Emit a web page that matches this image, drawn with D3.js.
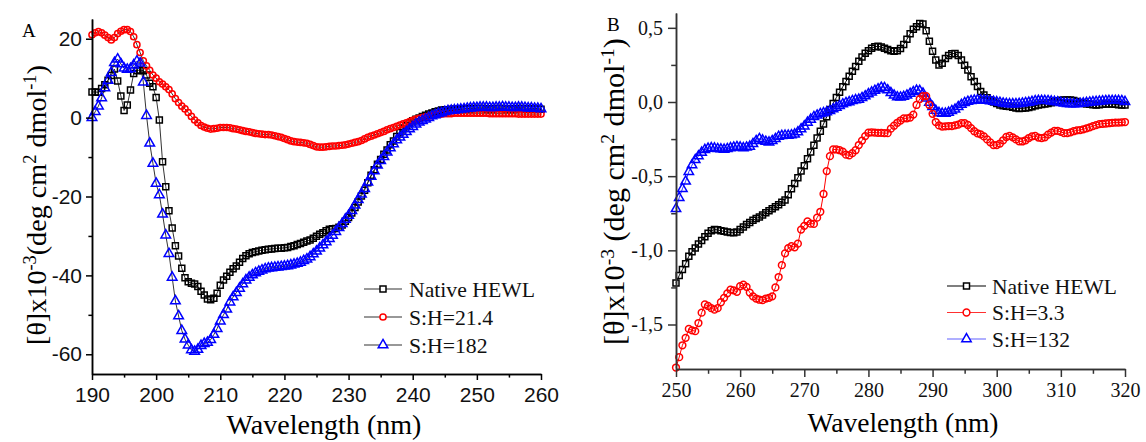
<!DOCTYPE html>
<html>
<head>
<meta charset="utf-8">
<script src="https://cdn.jsdelivr.net/npm/d3@7/dist/d3.min.js"></script>
<style>
  body { margin: 0; background: #fff; }
  svg { display: block; }
  .serif { font-family: 'Liberation Serif', 'Tinos', 'Nimbus Roman', 'FreeSerif', 'Noto Serif', 'DejaVu Serif', 'Times New Roman', 'Liberation Sans', sans-serif; }
  .sans { font-family: 'Liberation Sans', Arial, 'DejaVu Sans', sans-serif; }
</style>
</head>
<body>
<svg id="chart" width="1146" height="442"></svg>
<script>
// wavelength grid of the spectra (0.5 nm steps)
const wlA = d3.range(190, 260.25, 0.5);
const wlB = d3.range(250, 320.25, 0.5);

// panel A, far-UV CD, [theta] x 10^-3
const nativeA = [
  6.5, 6.5, 6.4, 7.4, 8.3, 9.5, 10.7, 12.3, 9.3, 5.5,
  1.8, 3.2, 7.0, 11.2, 11.9, 12.1, 11.9, 10.8, 8.7, 7.8,
  5.1, -0.6, -11.2, -17.5, -23.6, -28.0, -32.5, -35.1, -38.2, -40.6,
  -41.6, -42.0, -42.2, -42.8, -44.0, -45.0, -46.0, -46.2, -45.8, -44.5,
  -42.5, -41.2, -40.2, -39.2, -38.3, -37.6, -36.7, -35.7, -35.0, -34.5,
  -34.2, -34.0, -33.8, -33.6, -33.5, -33.4, -33.3, -33.2, -33.1, -33.1,
  -33.0, -32.9, -32.7, -32.5, -32.2, -31.9, -31.6, -31.3, -31.0, -30.6,
  -30.1, -29.6, -29.2, -28.7, -28.3, -28.2, -28.1, -27.8, -27.2, -26.3,
  -25.3, -24.2, -22.8, -21.4, -19.9, -18.4, -16.5, -14.6, -13.2, -11.8,
  -10.6, -9.3, -8.2, -6.9, -5.9, -4.8, -3.8, -2.8, -2.0, -1.3,
  -0.8, -0.4, -0.1, 0.3, 0.6, 0.9, 1.2, 1.5, 1.7, 1.9,
  2.0, 2.0, 2.1, 2.1, 2.1, 2.2, 2.2, 2.2, 2.2, 2.3,
  2.3, 2.3, 2.3, 2.2, 2.2, 2.2, 2.3, 2.3, 2.3, 2.2,
  2.2, 2.2, 2.2, 2.3, 2.3, 2.2, 2.2, 2.1, 2.1, 2.1,
  2.1
];
const sh214A = [
  21.0, 21.5, 21.8, 21.5, 20.9, 20.3, 19.7, 20.3, 21.3, 21.9,
  22.3, 22.3, 21.8, 20.5, 18.5, 16.5, 14.4, 13.1, 12.0, 10.8,
  10.0, 9.1, 8.5, 7.8, 7.1, 6.0, 4.8, 3.8, 2.9, 2.2,
  1.3, 0.3, -0.6, -1.3, -2.0, -2.4, -2.7, -2.9, -2.8, -2.7,
  -2.5, -2.5, -2.5, -2.6, -2.8, -2.9, -3.1, -3.3, -3.5, -3.6,
  -3.8, -4.0, -4.1, -4.2, -4.3, -4.3, -4.4, -4.6, -4.8, -5.0,
  -5.3, -5.6, -5.9, -6.1, -6.2, -6.3, -6.4, -6.5, -6.8, -7.1,
  -7.4, -7.5, -7.5, -7.4, -7.3, -7.2, -7.2, -7.1, -7.0, -6.9,
  -6.7, -6.5, -6.3, -6.1, -5.8, -5.4, -5.0, -4.7, -4.4, -4.1,
  -3.8, -3.5, -3.1, -2.8, -2.5, -2.2, -1.9, -1.6, -1.3, -1.0,
  -0.7, -0.4, -0.2, 0.0, 0.2, 0.4, 0.5, 0.7, 0.8, 0.9,
  1.0, 1.0, 1.0, 1.1, 1.1, 1.1, 1.1, 1.1, 1.1, 1.1,
  1.1, 1.1, 1.1, 1.1, 1.0, 1.0, 1.0, 1.0, 1.0, 1.0,
  1.0, 1.0, 1.0, 0.9, 0.9, 0.9, 0.9, 0.9, 0.9, 0.9,
  0.9
];
const sh182A = [
  0.0, 1.5, 2.9, 5.0, 7.5, 9.4, 11.4, 13.9, 14.8, 13.6,
  12.5, 12.2, 12.4, 13.3, 14.3, 13.8, 9.0, 0.5, -6.5, -11.6,
  -16.7, -19.6, -24.5, -29.8, -34.5, -40.5, -46.5, -50.3, -54.0, -56.2,
  -57.7, -58.9, -59.3, -58.8, -57.8, -57.3, -57.0, -56.3, -55.0, -53.5,
  -51.6, -50.0, -48.6, -46.8, -45.5, -44.4, -43.3, -42.2, -41.2, -40.5,
  -39.9, -39.4, -39.0, -38.7, -38.4, -38.2, -38.1, -38.0, -37.9, -37.8,
  -37.7, -37.6, -37.4, -37.2, -37.0, -36.7, -36.3, -35.9, -35.3, -34.6,
  -33.9, -33.1, -32.3, -31.5, -30.7, -29.9, -28.9, -27.9, -26.9, -25.8,
  -24.8, -23.6, -22.2, -20.8, -19.4, -18.0, -16.4, -14.9, -13.5, -12.1,
  -10.9, -9.9, -8.8, -7.7, -6.7, -5.7, -5.0, -4.3, -3.6, -2.9,
  -2.3, -1.7, -1.2, -0.8, -0.4, 0.0, 0.4, 0.7, 1.0, 1.2,
  1.5, 1.7, 1.8, 1.9, 2.0, 2.1, 2.2, 2.3, 2.4, 2.5,
  2.5, 2.6, 2.6, 2.6, 2.5, 2.5, 2.6, 2.6, 2.7, 2.6,
  2.6, 2.5, 2.5, 2.6, 2.6, 2.5, 2.4, 2.4, 2.3, 2.3,
  2.2
];

// panel B, near-UV CD, [theta] x 10^-3
const nativeB = [
  -1.22, -1.17, -1.13, -1.09, -1.04, -1.01, -0.985, -0.958, -0.934, -0.908,
  -0.885, -0.868, -0.860, -0.862, -0.868, -0.872, -0.876, -0.880, -0.882, -0.876,
  -0.860, -0.842, -0.826, -0.812, -0.797, -0.786, -0.775, -0.762, -0.747, -0.733,
  -0.720, -0.707, -0.693, -0.675, -0.660, -0.625, -0.585, -0.550, -0.510, -0.466,
  -0.430, -0.382, -0.337, -0.292, -0.242, -0.198, -0.148, -0.100, -0.050, -0.010,
  0.030, 0.066, 0.103, 0.139, 0.174, 0.207, 0.240, 0.275, 0.303, 0.328,
  0.346, 0.362, 0.373, 0.376, 0.370, 0.362, 0.354, 0.345, 0.342, 0.345,
  0.360, 0.388, 0.423, 0.460, 0.490, 0.507, 0.530, 0.526, 0.480, 0.410,
  0.342, 0.283, 0.250, 0.261, 0.294, 0.314, 0.325, 0.327, 0.313, 0.283,
  0.248, 0.216, 0.171, 0.139, 0.104, 0.070, 0.047, 0.028, 0.013, 0.000,
  -0.010, -0.020, -0.025, -0.028, -0.031, -0.036, -0.040, -0.043, -0.042, -0.040,
  -0.037, -0.032, -0.026, -0.021, -0.017, -0.013, -0.010, -0.005, 0.003, 0.008,
  0.012, 0.013, 0.013, 0.013, 0.010, 0.003, -0.004, -0.009, -0.013, -0.016,
  -0.018, -0.020, -0.018, -0.016, -0.014, -0.013, -0.014, -0.016, -0.018, -0.020,
  -0.020
];
const sh33B = [
  -1.79, -1.72, -1.64, -1.59, -1.53, -1.54, -1.545, -1.49, -1.42, -1.365,
  -1.375, -1.39, -1.40, -1.39, -1.35, -1.32, -1.29, -1.265, -1.27, -1.28,
  -1.242, -1.232, -1.246, -1.285, -1.31, -1.325, -1.333, -1.336, -1.325, -1.32,
  -1.31, -1.25, -1.18, -1.10, -1.02, -0.985, -0.972, -0.98, -0.955, -0.86,
  -0.835, -0.805, -0.82, -0.822, -0.78, -0.74, -0.62, -0.466, -0.365, -0.32,
  -0.32, -0.325, -0.335, -0.355, -0.36, -0.345, -0.325, -0.29, -0.26, -0.23,
  -0.207, -0.204, -0.206, -0.208, -0.208, -0.21, -0.21, -0.18, -0.16, -0.14,
  -0.125, -0.11, -0.11, -0.105, -0.085, -0.02, 0.02, 0.04, 0.04, -0.02,
  -0.08, -0.135, -0.158, -0.166, -0.164, -0.162, -0.162, -0.158, -0.153, -0.142,
  -0.142, -0.155, -0.176, -0.197, -0.211, -0.218, -0.232, -0.252, -0.272, -0.29,
  -0.29, -0.28, -0.258, -0.236, -0.229, -0.238, -0.252, -0.265, -0.266, -0.258,
  -0.243, -0.232, -0.229, -0.24, -0.244, -0.238, -0.22, -0.206, -0.195, -0.195,
  -0.201, -0.21, -0.21, -0.205, -0.197, -0.191, -0.189, -0.184, -0.178, -0.171,
  -0.163, -0.156, -0.149, -0.147, -0.145, -0.143, -0.14, -0.139, -0.139, -0.137,
  -0.135
];
const sh132B = [
  -0.72, -0.645, -0.585, -0.535, -0.47, -0.425, -0.39, -0.365, -0.34, -0.322,
  -0.313, -0.31, -0.312, -0.316, -0.318, -0.32, -0.316, -0.31, -0.306, -0.302,
  -0.305, -0.31, -0.306, -0.30, -0.282, -0.262, -0.248, -0.258, -0.267, -0.271,
  -0.262, -0.248, -0.233, -0.227, -0.226, -0.226, -0.223, -0.217, -0.203, -0.183,
  -0.163, -0.138, -0.118, -0.10, -0.09, -0.08, -0.074, -0.068, -0.06, -0.048,
  -0.037, -0.026, -0.014, -0.006, 0.0, 0.008, 0.014, 0.017, 0.028, 0.04,
  0.054, 0.066, 0.077, 0.087, 0.097, 0.095, 0.08, 0.062, 0.045, 0.033,
  0.031, 0.036, 0.045, 0.057, 0.068, 0.078, 0.076, 0.058, 0.025, -0.004,
  -0.033, -0.058, -0.072, -0.077, -0.077, -0.071, -0.06, -0.05, -0.033, -0.018,
  -0.006, 0.003, 0.008, 0.011, 0.013, 0.013, 0.011, 0.009, 0.006, 0.003,
  0.0, -0.004, -0.009, -0.012, -0.013, -0.013, -0.013, -0.012, -0.009, -0.006,
  -0.003, 0.002, 0.007, 0.009, 0.009, 0.009, 0.008, 0.005, 0.002, -0.001,
  -0.005, -0.009, -0.012, -0.013, -0.013, -0.013, -0.011, -0.008, -0.005, -0.002,
  0.0, 0.002, 0.004, 0.006, 0.008, 0.009, 0.009, 0.009, 0.009, 0.008,
  0.002
];

const namesA = ['Native HEWL', 'S:H=21.4', 'S:H=182'];
const namesB = ['Native HEWL', 'S:H=3.3', 'S:H=132'];
const xTicksA = [190, 200, 210, 220, 230, 240, 250, 260];
const yTicksA = [-60, -40, -20, 0, 20];
const xTicksB = [250, 260, 270, 280, 290, 300, 310, 320];
const yTicksB = [-1.5, -1.0, -0.5, 0.0, 0.5];

const svg = d3.select('#chart');

// halfway points between major ticks
function minors(t) {
  return t.slice(1).map((d, i) => (d + t[i]) / 2);
}

// font size that makes a text run as long as the one
function fitSize(sel, target) {
  var n = sel.node(),
    fs = parseFloat(getComputedStyle(n).fontSize),
    w = n.getBBox().width;
  return w > 0 ? fs * target / w : fs;
}

function drawPanel(p) {
  var
    g = svg.append('g'),
    line = d3.line().x((d, i) => p.x(p.wl[i])).y(d => p.y(d));

  // curves + open markers
  p.order.forEach(k => {
    var s = p.series[k];
    g.append('path')
      .attr('d', line(s.values))
      .attr('fill', 'none')
      .attr('stroke', s.line)
      .attr('stroke-width', p.lineWidth);
    g.append('g')
      .selectAll('path')
      .data(s.values)
      .enter()
      .append('path')
      .attr('d', d3.symbol().type(s.symbol).size(s.size))
      .attr('transform', (d, i) => `translate(${p.x(p.wl[i])},${p.y(d)})`)
      .attr('fill', 'none')
      .attr('stroke', s.color)
      .attr('stroke-width', 1.5);
  });

  // axes
  var
    xAxis = g.append('g')
      .attr('transform', `translate(0,${p.y.range()[0]})`)
      .call(d3.axisBottom(p.x).tickValues(p.xTicks).tickSize(p.tick).tickSizeOuter(0)
        .tickPadding(p.padX).tickFormat(d => String(d))),
    xMinor = g.append('g')
      .attr('transform', `translate(0,${p.y.range()[0]})`)
      .call(d3.axisBottom(p.x).tickValues(minors(p.xTicks)).tickSize(p.tick * 0.6).tickSizeOuter(0)
        .tickFormat('')),
    yAxis = g.append('g')
      .attr('transform', `translate(${p.x.range()[0]},0)`)
      .call(d3.axisLeft(p.y).tickValues(p.yTicks).tickSize(p.tick).tickSizeOuter(0)
        .tickPadding(p.padY).tickFormat(p.fmt)),
    yMinor = g.append('g')
      .attr('transform', `translate(${p.x.range()[0]},0)`)
      .call(d3.axisLeft(p.y).tickValues(minors(p.yTicks)).tickSize(p.tick * 0.6).tickSizeOuter(0)
        .tickFormat(''));

  [xAxis, xMinor, yAxis, yMinor].forEach(a => {
    a.attr('font-family', null).attr('font-size', null);
    a.selectAll('path, line').attr('stroke', p.axisColor).attr('stroke-width', 1.5);
    a.selectAll('text')
      .attr('class', p.tickClass)
      .style('font-size', '22px')
      .attr('fill', '#111');
  });
  // tick label size from the width of one x label
  var tickFs = fitSize(xAxis.select('.tick text'), p.tickW);
  [xAxis, yAxis].forEach(a => a.selectAll('text').style('font-size', tickFs + 'px'));

  // panel letter
  g.append('text')
    .attr('class', 'serif')
    .attr('x', p.letterPos[0]).attr('y', p.letterPos[1])
    .style('font-size', '19px')
    .text(p.letter);

  // x title
  var xt = g.append('text')
    .attr('class', 'serif')
    .attr('x', p.xTitlePos[0]).attr('y', p.xTitlePos[1])
    .attr('text-anchor', 'middle')
    .style('font-size', '27px')
    .text('Wavelength (nm)');
  xt.style('font-size', fitSize(xt, p.xTitleW) + 'px');

  // y title: rotated group, text starts at the bottom end and runs upward
  var yg = g.append('g')
      .attr('transform', `translate(${p.yTitle.x},${p.yTitle.bottom}) rotate(-90)`),
    yt = yg.append('text')
      .attr('class', 'serif')
      .attr('x', 0).attr('y', 0)
      .style('font-size', '25px');
  [
    ['[\u03b8]x10', false], ['-3', true], [p.gap + '(deg cm', false],
    ['2', true], [' dmol', false], ['-1', true], [')', false]
  ].forEach(([t, sup]) => {
    var ts = yt.append('tspan').text(t);
    if (sup) ts.attr('baseline-shift', 'super').style('font-size', '65%');
  });
  var runLen = d3.sum(yt.selectAll('tspan').nodes(), n => n.getComputedTextLength());
  if (runLen > 0) yt.style('font-size', (25 * p.yTitle.len / runLen) + 'px');

  // legend
  var leg = g.append('g')
    .selectAll('g')
    .data(p.names)
    .enter()
    .append('g')
    .attr('transform', (d, i) => `translate(0,${p.legend.y + i * p.legend.dy})`);
  leg.append('line')
    .attr('x1', p.legend.x0).attr('x2', p.legend.x1)
    .attr('stroke', (d, i) => p.series[i].legendLine)
    .attr('stroke-width', 1.2);
  leg.append('path')
    .attr('d', (d, i) => d3.symbol().type(p.series[i].symbol).size(p.series[i].size)())
    .attr('transform', `translate(${(p.legend.x0 + p.legend.x1) / 2},0)`)
    .attr('fill', '#fff')
    .attr('stroke', (d, i) => p.series[i].color)
    .attr('stroke-width', 1.5);
  var lt = leg.append('text')
    .attr('class', 'serif')
    .attr('x', p.legend.tx)
    .attr('dy', '0.35em')
    .style('font-size', '23px')
    .attr('fill', '#111')
    .text(d => d);
  lt.style('font-size', fitSize(d3.select(lt.node()), p.legend.w) + 'px');
}

drawPanel({
  wl: wlA,
  x: d3.scaleLinear([190, 260], [92, 541]),
  y: d3.scaleLinear([-65, 25], [374, 19]),
  xTicks: xTicksA, yTicks: yTicksA,
  fmt: d => String(d),
  tick: 6, padX: 7, padY: 4, tickW: 35,
  axisColor: '#000', tickClass: 'sans',
  lineWidth: 0.8,
  series: [
    {values: nativeA, color: '#000', line: '#000', legendLine: '#333', symbol: d3.symbolSquare, size: 36},
    {values: sh214A, color: '#ff0000', line: '#000', legendLine: '#333', symbol: d3.symbolCircle, size: 30},
    {values: sh182A, color: '#0000ff', line: '#000', legendLine: '#333', symbol: d3.symbolTriangle, size: 40}
  ],
  order: [0, 1, 2],
  names: namesA,
  legend: {x0: 364, x1: 402, tx: 409, y: 289, dy: 28, w: 126},
  letter: 'A', letterPos: [22, 37],
  xTitlePos: [324, 434], xTitleW: 195,
  yTitle: {x: 46, bottom: 345, len: 280}, gap: ''
});

drawPanel({
  wl: wlB,
  x: d3.scaleLinear([250, 320], [676, 1125]),
  y: d3.scaleLinear([-1.8, 0.6], [369, 13]),
  xTicks: xTicksB, yTicks: yTicksB,
  fmt: d => d3.format('.1f')(d).replace('.', ',').replace('\u2212', '-'),
  tick: 8, padX: 6, padY: 5, tickW: 30,
  axisColor: '#333', tickClass: 'serif',
  lineWidth: 1,
  series: [
    {values: nativeB, color: '#000', line: '#000', legendLine: '#000', symbol: d3.symbolSquare, size: 36},
    {values: sh33B, color: '#ff0000', line: '#ff0000', legendLine: '#ff3030', symbol: d3.symbolCircle, size: 36},
    {values: sh132B, color: '#0000ff', line: '#3030ff', legendLine: '#6060ff', symbol: d3.symbolTriangle, size: 38}
  ],
  order: [0, 2, 1],
  names: namesB,
  legend: {x0: 947, x1: 986, tx: 992, y: 286, dy: 26.5, w: 125},
  letter: 'B', letterPos: [607, 31],
  xTitlePos: [903, 432], xTitleW: 191,
  yTitle: {x: 624, bottom: 345, len: 307}, gap: ' '
});
</script>
</body>
</html>
